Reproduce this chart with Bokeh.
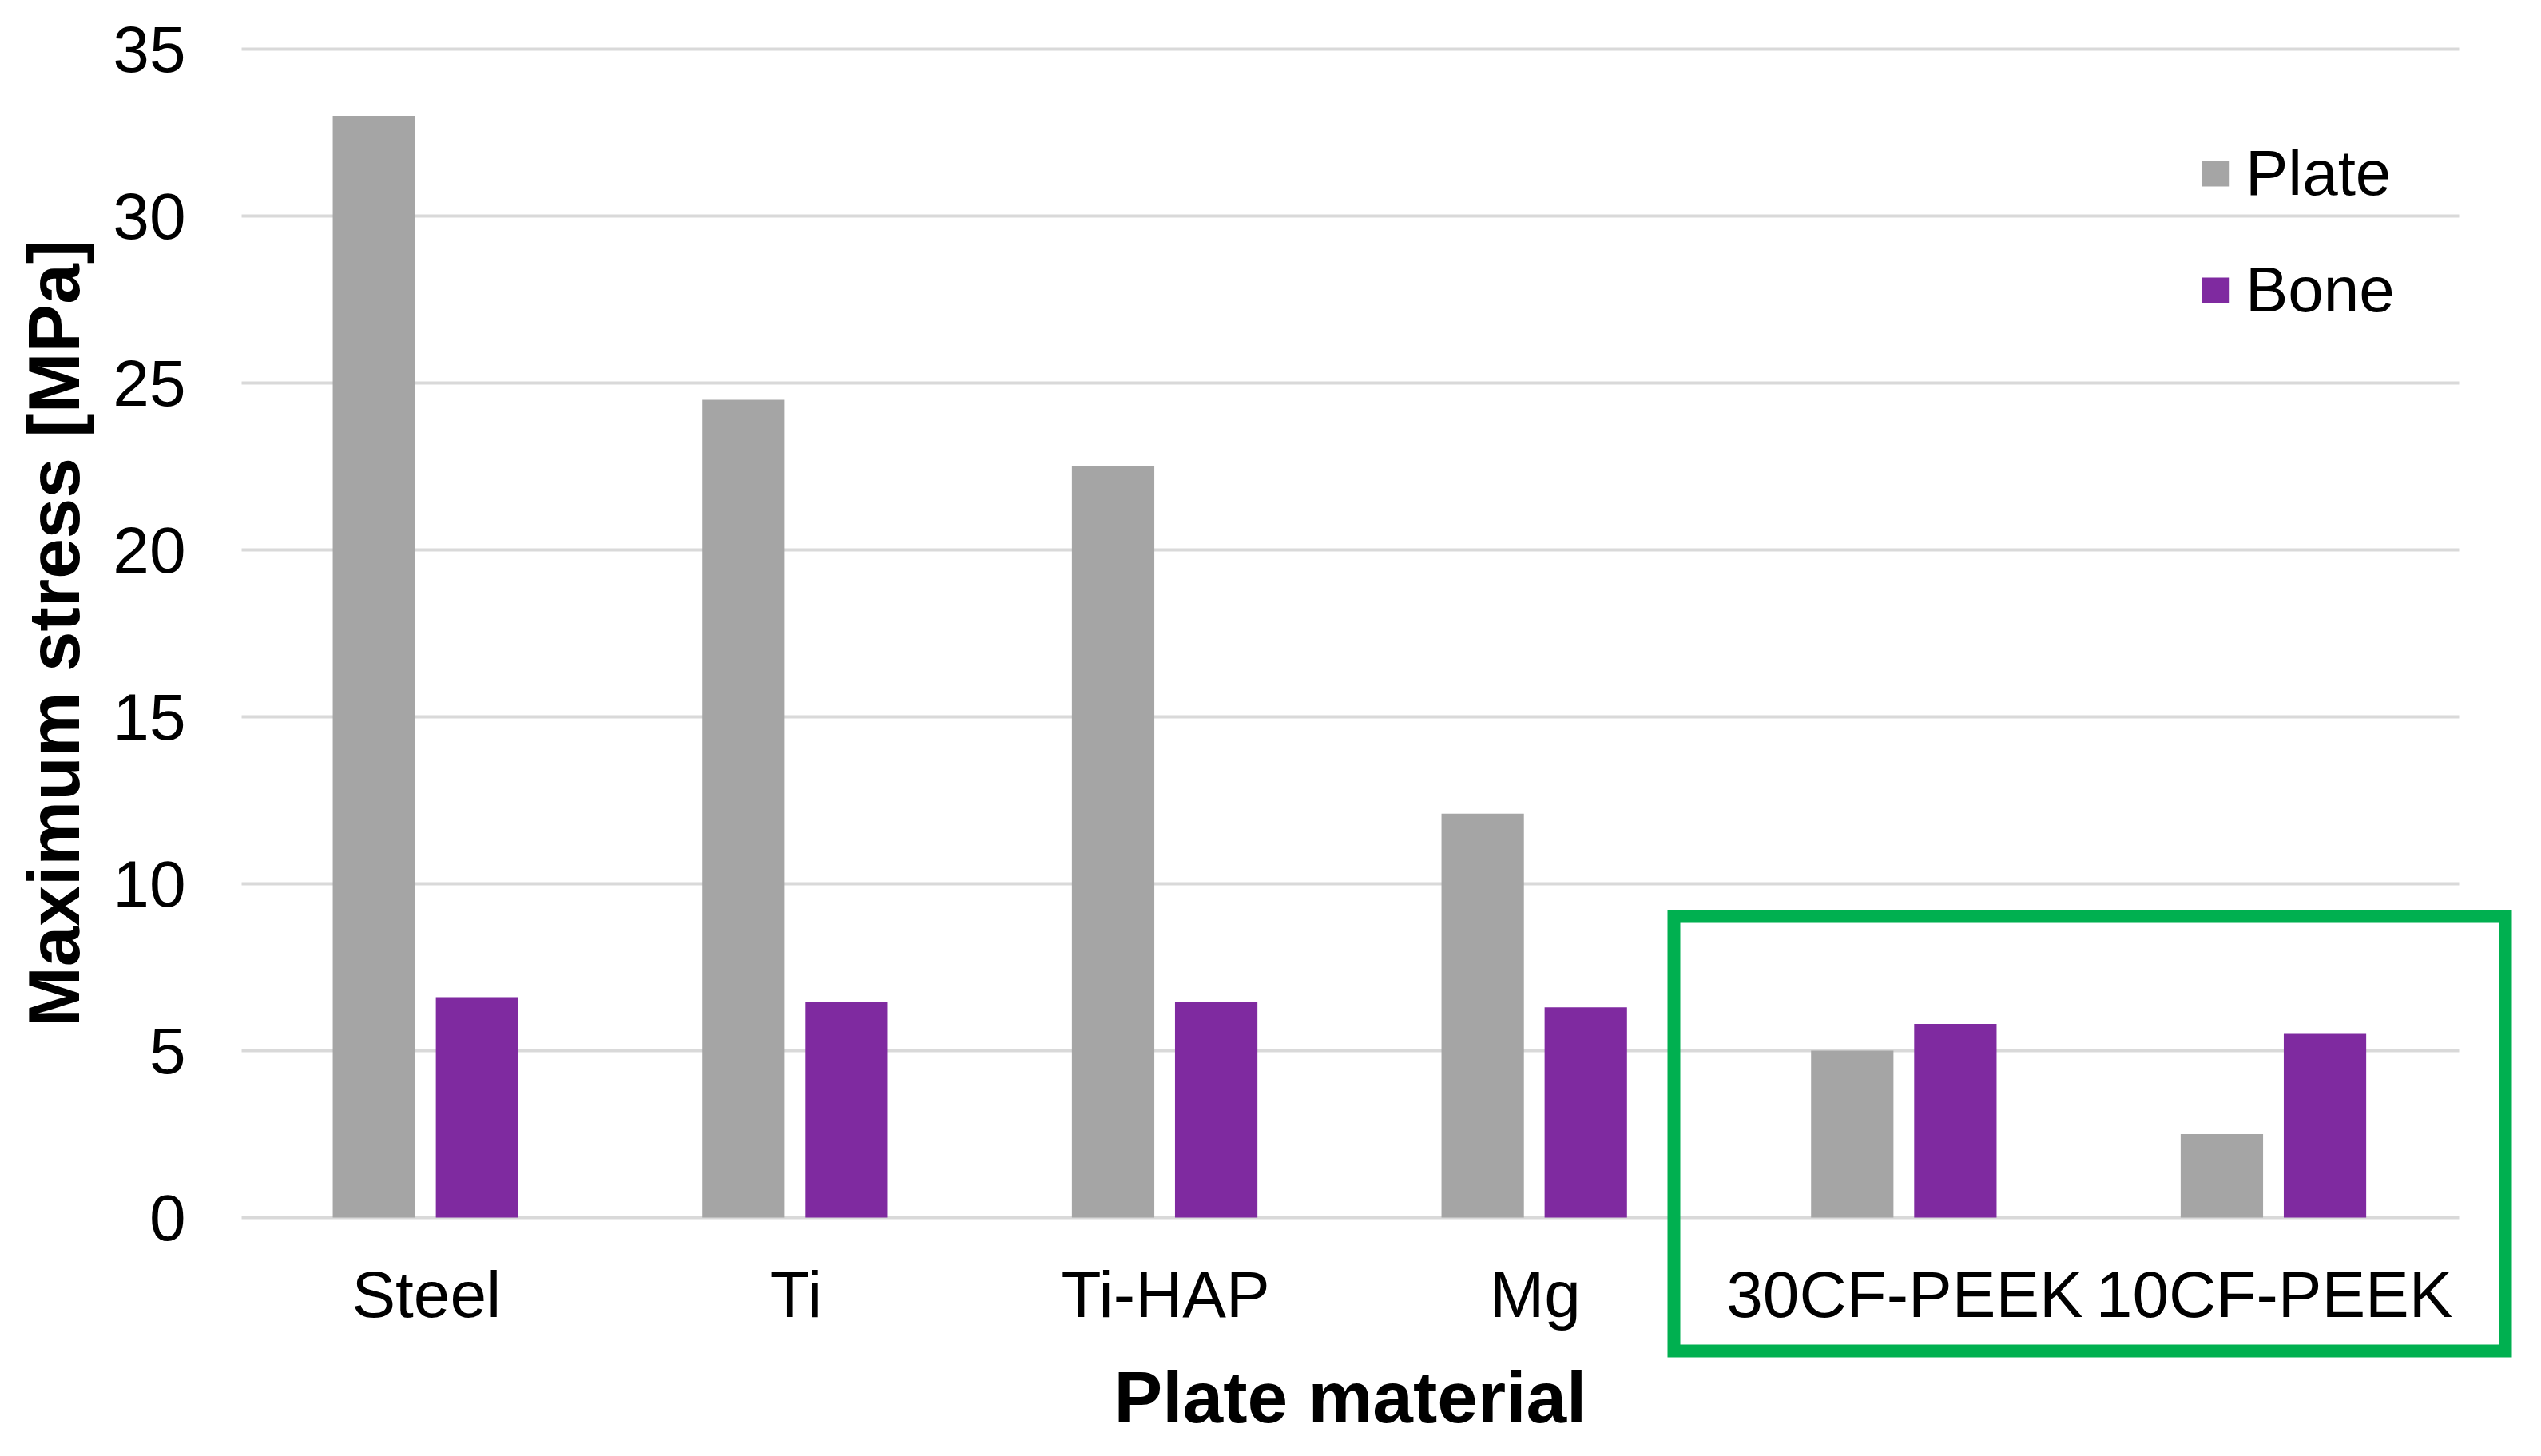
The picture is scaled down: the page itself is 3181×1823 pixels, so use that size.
from bokeh.plotting import figure
from bokeh.models import ColumnDataSource, Legend, LegendItem, BoxAnnotation, FixedTicker
from bokeh.transform import dodge
from bokeh.embed import file_html
from bokeh.resources import INLINE

materials = ["Steel", "Ti", "Ti-HAP", "Mg", "30CF-PEEK", "10CF-PEEK"]
plate = [33.0, 24.5, 22.5, 12.1, 5.0, 2.5]
bone = [6.6, 6.45, 6.45, 6.3, 5.8, 5.5]
y_ticks = [0, 5, 10, 15, 20, 25, 30, 35]

W, H = 3165, 1807
# plot-area geometry (canvas px): left edge, right edge of categories, top (35), zero line
FL, FR_AX, FT, F0 = 302, 3078, 61, 1524
ppu_y = (F0 - FT) / 35.0
ppu_x = (FR_AX - FL) / float(len(materials))
x_start = -FL / ppu_x
x_end = (W - FL) / ppu_x
y_start = -(H - F0) / ppu_y
y_end = 35 + FT / ppu_y

pos = [i + 0.5 for i in range(len(materials))]
src = ColumnDataSource(dict(pos=pos, m=materials, plate=plate, bone=bone))

p = figure(x_range=(x_start, x_end), y_range=(y_start, y_end),
           width=W, height=H, output_backend="svg", toolbar_location=None,
           min_border_left=0, min_border_right=0, min_border_top=0, min_border_bottom=0)
p.outline_line_color = None
p.background_fill_color = "white"
p.border_fill_color = "white"

FONT = "Liberation Sans"

# horizontal gridlines, limited to the category span
p.xgrid.grid_line_color = None
p.ygrid.grid_line_color = None
p.segment(x0=[0] * len(y_ticks), x1=[len(materials)] * len(y_ticks), y0=y_ticks, y1=y_ticks,
          line_color="#D9D9D9", line_width=4)

r1 = p.vbar(x=dodge("pos", -0.142), top="plate", width=0.223, source=src,
            fill_color="#A5A5A5", line_color=None)
r2 = p.vbar(x=dodge("pos", 0.137), top="bone", width=0.223, source=src,
            fill_color="#7F2AA0", line_color=None)

p.yaxis.ticker = FixedTicker(ticks=y_ticks)
p.yaxis.bounds = (0, 35)
p.yaxis.fixed_location = 0
p.xaxis.ticker = FixedTicker(ticks=pos)
p.xaxis.major_label_overrides = {v: m for v, m in zip(pos, materials)}
p.xaxis.bounds = (0, len(materials))
p.xaxis.fixed_location = 0

for ax in (p.xaxis[0], p.yaxis[0]):
    ax.axis_line_color = None
    ax.major_tick_line_color = None
    ax.minor_tick_line_color = None
    ax.major_label_text_font = FONT
    ax.major_label_text_font_size = "82px"
    ax.major_label_text_color = "#000000"
    ax.axis_label_text_font = FONT
    ax.axis_label_text_font_size = "91px"
    ax.axis_label_text_font_style = "bold"
    ax.axis_label_text_color = "#000000"

p.xaxis.axis_label = "Plate material"
p.yaxis.axis_label = "Maximum stress [MPa]"
p.yaxis.major_label_standoff = 64
p.xaxis.major_label_standoff = 44
p.xaxis.axis_label_standoff = 30
p.yaxis.axis_label_standoff = 20

legend = Legend(items=[LegendItem(label="Plate", renderers=[r1]),
                       LegendItem(label="Bone", renderers=[r2])],
                location=(2752, 1398), orientation="vertical",
                label_text_font=FONT, label_text_font_size="80px", label_text_color="#000000",
                glyph_width=43, glyph_height=40, label_standoff=16,
                spacing=54, padding=0, margin=0,
                border_line_color=None, background_fill_alpha=0)
p.add_layout(legend)

box = BoxAnnotation(left=2095, right=3136, top=1147, bottom=1691,
                    left_units="canvas", right_units="canvas", top_units="canvas", bottom_units="canvas",
                    fill_alpha=0, line_color="#00B050", line_alpha=1.0, line_width=16,
                    line_join="miter")
p.add_layout(box)

open("out.html", "w").write(file_html(p, INLINE))
